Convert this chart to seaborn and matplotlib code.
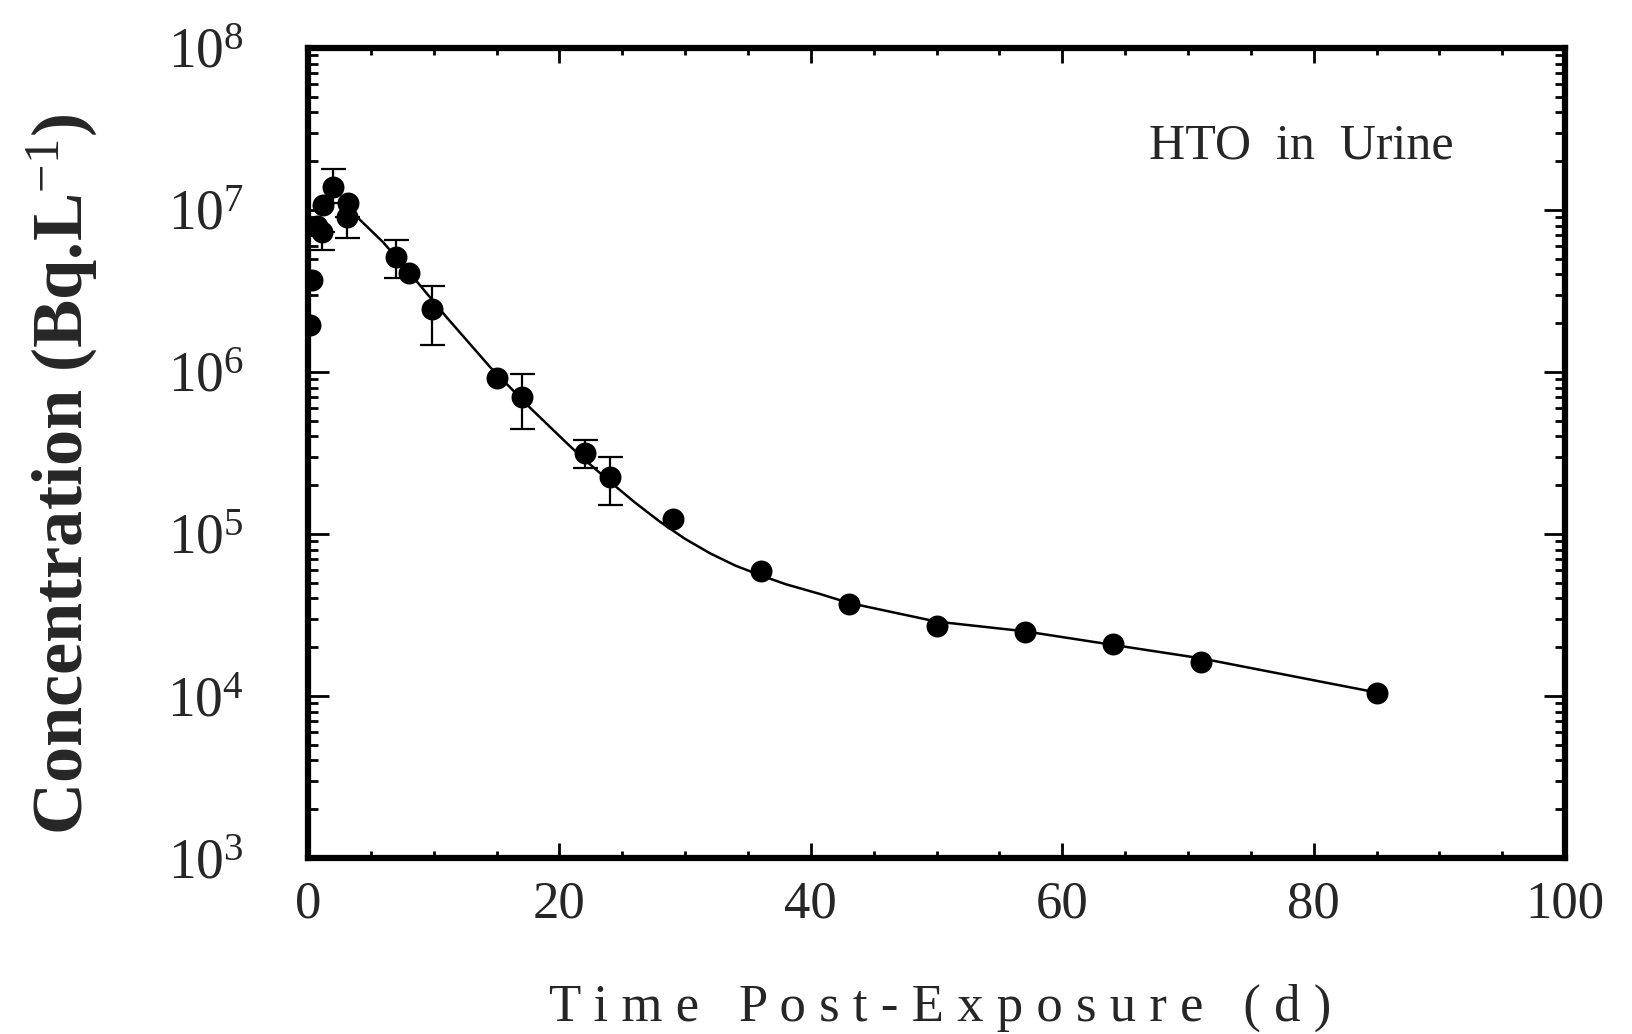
import matplotlib
matplotlib.use("Agg")
import matplotlib.pyplot as plt
import matplotlib.ticker as mticker
import numpy as np
import pandas as pd
import seaborn as sns

# measured HTO concentrations in urine (Bq/L) vs days post-exposure
time_d = [0.2, 0.3, 0.7, 1.1, 1.2, 2.0, 3.1, 3.2, 7.0, 8.0, 9.9, 15.0, 17.0,
          22.0, 24.0, 29.0, 36.0, 43.0, 50.0, 57.0, 64.0, 71.0, 85.0]
conc = [1.95e6, 3.7e6, 8.0e6, 7.3e6, 1.07e7, 1.39e7, 9.1e6, 1.1e7, 5.1e6,
        4.1e6, 2.45e6, 9.2e5, 7.0e5, 3.16e5, 2.25e5, 1.23e5, 5.9e4, 3.7e4,
        2.7e4, 2.5e4, 2.1e4, 1.63e4, 1.04e4]

# error bars (low / high ends)
err_time = [1.1, 2.0, 3.1, 7.0, 9.9, 17.0, 22.0, 24.0]
err_conc = [7.3e6, 1.39e7, 9.1e6, 5.1e6, 2.45e6, 7.0e5, 3.16e5, 2.25e5]
err_low = [5.7e6, 1.1e7, 6.7e6, 3.8e6, 1.47e6, 4.45e5, 2.55e5, 1.51e5]
err_high = [7.3e6, 1.78e7, 9.1e6, 6.5e6, 3.4e6, 9.7e5, 3.8e5, 2.99e5]

# fitted curve
fit_time = [3.0, 4.0, 6.0, 8.0, 11.0, 14.5, 17.7, 20.8, 22.0, 24.0, 26.0,
            28.0, 30.0, 32.0, 34.0, 36.0, 38.0, 40.7, 43.0, 50.0, 57.0,
            64.0, 71.0, 84.5]
fit_conc = [1.07e7, 8.9e6, 6.3e6, 4.17e6, 2.19e6, 1.07e6, 5.98e5, 3.51e5,
            2.88e5, 2.11e5, 1.567e5, 1.19e5, 9.33e4, 7.59e4, 6.38e4, 5.56e4,
            4.9e4, 4.27e4, 3.76e4, 2.88e4, 2.51e4, 2.07e4, 1.71e4, 1.07e4]

x_ticks = [0, 20, 40, 60, 80, 100]

sns.set_style("ticks")
plt.rcParams['font.family'] = ['Liberation Serif', 'DejaVu Serif']
plt.rcParams['mathtext.fontset'] = 'custom'
plt.rcParams['mathtext.rm'] = 'Liberation Serif'
plt.rcParams['mathtext.it'] = 'Liberation Serif:italic'
plt.rcParams['mathtext.bf'] = 'Liberation Serif:bold'

fig = plt.figure(figsize=(16.32, 10.34), dpi=100)
ax = fig.add_axes([0.1887, 0.1702, 0.7703, 0.7834])

points = pd.DataFrame({"time": time_d, "conc": conc})
fit = pd.DataFrame({"time": fit_time, "conc": fit_conc})

sns.lineplot(data=fit, x="time", y="conc", color="black", lw=1.8, ax=ax,
             zorder=2)
yerr = [np.array(err_conc) - np.array(err_low),
        np.array(err_high) - np.array(err_conc)]
ax.errorbar(err_time, err_conc, yerr=yerr, fmt="none", ecolor="black",
            elinewidth=1.6, capsize=9, capthick=1.6, zorder=3)
sns.scatterplot(data=points, x="time", y="conc", color="black", s=250,
                edgecolor="black", linewidth=0, ax=ax, zorder=4)

ax.set_yscale("log")
ax.set_xlim(0, 100)
ax.set_ylim(1e3, 1e8)
ax.set_xticks(x_ticks)
ax.xaxis.set_minor_locator(mticker.MultipleLocator(5))
ax.yaxis.set_major_locator(mticker.LogLocator(base=10, numticks=10))
ax.yaxis.set_minor_locator(mticker.LogLocator(base=10, subs=np.arange(2, 10),
                                              numticks=20))
ax.yaxis.set_minor_formatter(mticker.NullFormatter())

for s in ax.spines.values():
    s.set_linewidth(4.5)
    s.set_color("black")

ax.tick_params(axis="both", which="both", direction="in", top=True,
               right=True, color="black", width=2)
ax.tick_params(axis="y", which="major", length=15, labelsize=40, pad=46)
ax.tick_params(axis="y", which="minor", length=7)
ax.tick_params(axis="x", which="major", length=11, labelsize=38, pad=16)
ax.tick_params(axis="x", which="minor", length=5)

ax.set_xlabel("T i m e   P o s t - E x p o s u r e   ( d )", fontsize=38)
ax.xaxis.set_label_coords(0.503, -0.155)
ax.set_ylabel("Concentration (Bq.L$^{-1}$)", fontsize=52,
              fontweight="bold")
ax.yaxis.set_label_coords(-0.166, 0.474)

ax.text(0.79, 0.879, "HTO  in  Urine", transform=ax.transAxes, fontsize=36,
        ha="center", va="center")

fig.savefig("out.png", dpi=100)
